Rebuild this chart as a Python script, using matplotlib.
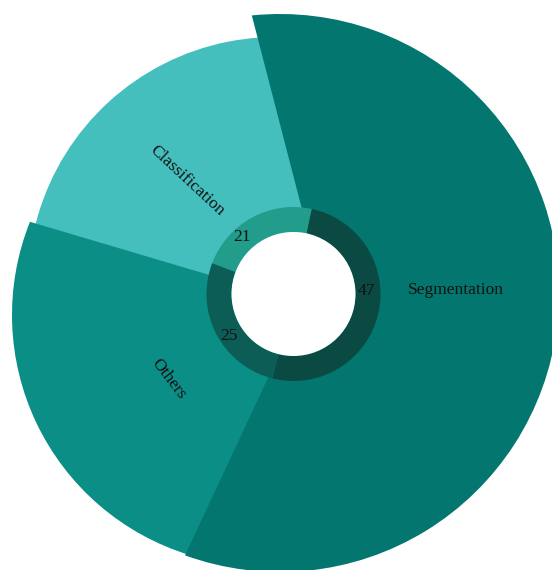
import numpy as np
import matplotlib.pyplot as plt
from matplotlib.path import Path
from matplotlib.patches import PathPatch, Circle

# data
labels = ["Segmentation", "Classification", "Others"]
counts = [47, 21, 25]

# colours (outer petal, inner band)
outer_colors = ["#03766f", "#45bfbe", "#0b8e86"]
band_colors = ["#0a4a43", "#229d8b", "#0c5d56"]

# petal layout in figure pixels (y up): apex, arc centre, radius, arc span (deg)
petal_apex = [(318, 299), (293, 276), (304, 267)]
petal_centre = [(280, 277), (276, 285), (263, 255)]
petal_radius = [279, 248, 251]
petal_arc = [(-109.9, 95.8), (70, 195), (158.2, 253)]
petal_z = [3, 1, 2]

hole_xy = (293.5, 276)
hole_r = 62
band_r = 87

# text layout
name_xy = [(456, 280), (186.7, 389.2), (168.5, 191)]
name_rot = [0, -42.9, -52.4]
value_xy = [(366, 279), (242.5, 333.3), (229.2, 234.2)]

FONT = ["Liberation Serif", "DejaVu Serif"]


def petal_path(apex, centre, r, t1, t2):
    """build a pie-like petal: straight edges from apex, circular arc round centre"""
    arc = Path.arc(t1, t2)
    verts = np.vstack([apex, arc.vertices * r + np.asarray(centre), apex])
    codes = [Path.MOVETO, Path.LINETO] + list(arc.codes[1:]) + [Path.CLOSEPOLY]
    return Path(verts, codes)


fig = plt.figure(figsize=(5.52, 5.70), dpi=100)
ax = fig.add_axes([0, 0, 1, 1])

for i in range(len(labels)):
    t1, t2 = petal_arc[i]
    path = petal_path(petal_apex[i], petal_centre[i], petal_radius[i], t1, t2)
    ax.add_patch(PathPatch(path, facecolor=outer_colors[i], edgecolor="none",
                           lw=0, zorder=petal_z[i]))

# inner ring, one wedge per category
wedges, _ = ax.pie(counts, colors=band_colors, radius=band_r, center=hole_xy,
                   startangle=-104, counterclock=True,
                   wedgeprops=dict(width=band_r - hole_r, linewidth=0))
for w in wedges:
    w.set_zorder(5)

ax.add_patch(Circle(hole_xy, hole_r, facecolor="white", edgecolor="none", zorder=6))

for i in range(len(labels)):
    ax.text(name_xy[i][0], name_xy[i][1], labels[i], rotation=name_rot[i],
            ha="center", va="center", fontsize=12.5, family=FONT,
            color="#111111", zorder=8, rotation_mode="anchor")
    ax.text(value_xy[i][0], value_xy[i][1], str(counts[i]),
            ha="center", va="center", fontsize=12.5, family=FONT,
            color="#111111", zorder=8)

ax.set_xlim(0, 552)
ax.set_ylim(0, 570)
ax.set_aspect("equal")
ax.axis("off")

fig.savefig("out.png", dpi=100, facecolor="white")
